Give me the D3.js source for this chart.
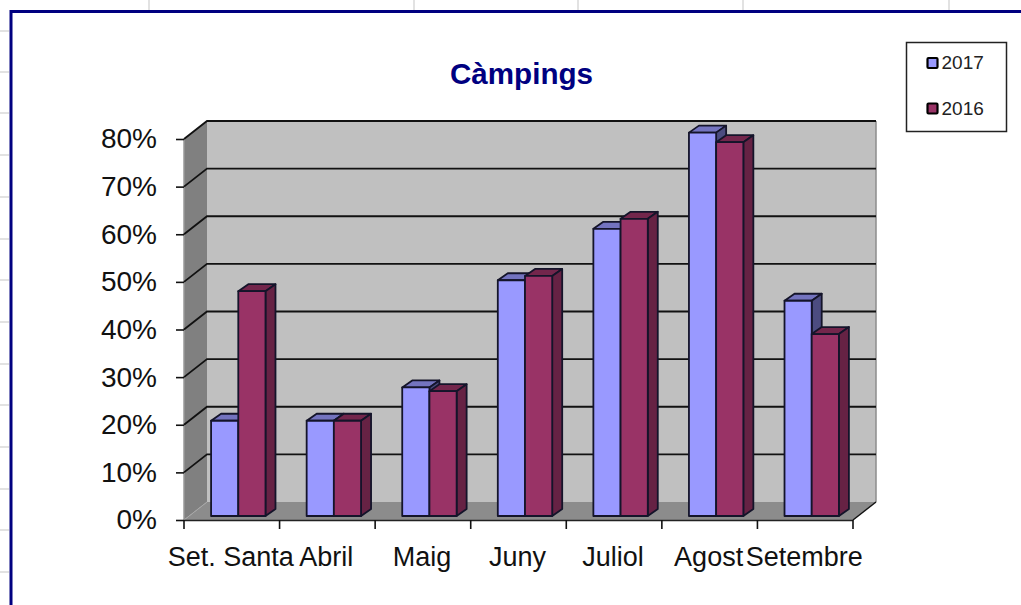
<!DOCTYPE html>
<html><head><meta charset="utf-8">
<script src="https://cdn.jsdelivr.net/npm/d3@7"></script>
<style>html,body{margin:0;padding:0;background:#fff;overflow:hidden}svg{display:block}text{font-family:"Liberation Sans",Arial,sans-serif}</style>
</head><body><svg id="c" width="1021" height="605"></svg>
<script>
const categories=["Set. Santa","Abril","Maig","Juny","Juliol","Agost","Setembre"];
const seriesNames=["2017","2016"];
const values2017=[20,20,27,49.5,60.3,80.5,45.2];
const values2016=[47.2,20,26.2,50.4,62.4,78.5,38.2];
const yTicks=[0,10,20,30,40,50,60,70,80];
const sheetColumns=[149,414,578,743,949];
const sheetRows=[31,72,113,155,197,239,280,322,364,405,447,489,530,572];
const title="Càmpings";

const svg=d3.select("#c");
const x=d3.scaleBand().domain(categories).range([184,853]);
const y=d3.scaleLinear().domain([0,80]).range([520,139]);
const dx=23,dy=-18;               // full chart depth
const barOff={x:6.5,y:-4},barD={x:10,y:-7};
const barW=27.2;
const colors={ "2017":{f:"#9999ff",t:"#7373bf",s:"#4c4c80"}, "2016":{f:"#993366",t:"#73264c",s:"#662244"} };
const poly=(pts)=>pts.map(p=>p.join(",")).join(" ");

// sheet gridlines behind the chart
svg.append("g").selectAll("line").data(sheetColumns).join("line")
 .attr("x1",d=>d).attr("x2",d=>d).attr("y1",0).attr("y2",10).attr("stroke","#d9d9d9").attr("stroke-width",1.5);
svg.append("g").selectAll("line").data(sheetRows).join("line")
 .attr("x1",0).attr("x2",9).attr("y1",d=>d).attr("y2",d=>d).attr("stroke","#d9d9d9").attr("stroke-width",1.5);

// chart area border
svg.append("path").attr("d","M11,605V11.5H1021").attr("fill","none").attr("stroke","#000080").attr("stroke-width",3);

const [x0,x1]=x.range(), y0=y(0), yT=y(80);
// walls
svg.append("polygon").attr("points",poly([[x0+dx,yT+dy],[x1+dx,yT+dy],[x1+dx,y0+dy],[x0+dx,y0+dy]])).attr("fill","#c0c0c0");
svg.append("polygon").attr("points",poly([[x0,yT],[x0+dx,yT+dy],[x0+dx,y0+dy],[x0,y0]])).attr("fill","#808080");
svg.append("polygon").attr("points",poly([[x0,y0],[x0+dx,y0+dy],[x1+dx,y0+dy],[x1,y0]])).attr("fill","#8c8c8c");
svg.append("line").attr("x1",x1+dx).attr("x2",x1+dx).attr("y1",yT+dy).attr("y2",y0+dy).attr("stroke","#8c8c8c").attr("stroke-width",1.5);
svg.append("line").attr("x1",x0).attr("x2",x0).attr("y1",yT).attr("y2",y0).attr("stroke","#999").attr("stroke-width",1.5);

// gridlines
const grid=svg.append("g");
grid.selectAll("path").data(yTicks.filter(d=>d>0)).join("path")
 .attr("d",d=>`M${x0},${y(d)}L${x0+dx},${y(d)+dy}H${x1+dx}`)
 .attr("fill","none").attr("stroke","#111").attr("stroke-width",1.8);
svg.append("path").attr("d",`M${x0},${y0}L${x0+dx},${y0+dy}`).attr("fill","none").attr("stroke","#a8a8a8").attr("stroke-width",1);
svg.append("path").attr("d",`M${x1},${y0}L${x1+dx},${y0+dy}`).attr("fill","none").attr("stroke","#111").attr("stroke-width",1.4);

// axes
const yAxis=d3.axisLeft(y).tickValues(yTicks).tickFormat(d=>d+"%").tickSize(8).tickPadding(19);
const gy=svg.append("g").attr("transform",`translate(${x0},0)`).call(yAxis);
gy.select(".domain").remove();
gy.selectAll("line").attr("stroke","#111").attr("stroke-width",1.6);
gy.selectAll("text").attr("font-size",28).attr("fill","#111").attr("font-family","Liberation Sans");
svg.append("line").attr("x1",x0).attr("x2",x1).attr("y1",y0+.5).attr("y2",y0+.5).attr("stroke","#222").attr("stroke-width",1.6);
const xEdges=[...categories.map(c=>x(c)),x1];
svg.append("g").selectAll("line").data(xEdges).join("line")
 .attr("x1",d=>d).attr("x2",d=>d).attr("y1",y0).attr("y2",y0+9).attr("stroke","#111").attr("stroke-width",1.6);
svg.append("g").selectAll("text").data(categories).join("text")
 .attr("x",d=>x(d)+x.bandwidth()/2-1).attr("y",566).attr("text-anchor","middle")
 .attr("font-size",27).attr("fill","#111").text(d=>d);

// bars
const rows=categories.flatMap((c,i)=>[{c,s:"2017",v:values2017[i],k:0},{c,s:"2016",v:values2016[i],k:1}]);
const bars=svg.append("g").selectAll("g").data(rows).join("g")
 .attr("stroke","#14142a").attr("stroke-width",1.8).attr("stroke-linejoin","round");
const L=d=>x(d.c)+x.bandwidth()/2-barW+barOff.x+d.k*barW;
const T=d=>y(d.v)+barOff.y, B=d=>y(0)+barOff.y;
bars.append("polygon").attr("points",d=>{const l=L(d),r=l+barW,t=T(d);return poly([[l,t],[l+barD.x,t+barD.y],[r+barD.x,t+barD.y],[r,t]])}).attr("fill",d=>colors[d.s].t);
bars.append("polygon").attr("points",d=>{const r=L(d)+barW,t=T(d),b=B(d);return poly([[r,t],[r+barD.x,t+barD.y],[r+barD.x,b+barD.y],[r,b]])}).attr("fill",d=>colors[d.s].s);
bars.append("rect").attr("x",L).attr("y",T).attr("width",barW).attr("height",d=>B(d)-T(d)).attr("fill",d=>colors[d.s].f);

// title
svg.append("text").attr("x",521.5).attr("y",84).attr("text-anchor","middle").attr("font-size",29.6).attr("font-weight","bold").attr("fill","#000080").text(title);

// legend
svg.append("rect").attr("x",906.5).attr("y",42.5).attr("width",100).attr("height",89).attr("fill","#fff").attr("stroke","#222").attr("stroke-width",1.5);
const lg=svg.append("g").selectAll("g").data(seriesNames).join("g").attr("transform",(d,i)=>`translate(0,${63+i*45.5})`);
lg.append("rect").attr("x",927.5).attr("y",-5).attr("width",10).attr("height",10).attr("rx",1).attr("fill",d=>colors[d].f).attr("stroke","#000").attr("stroke-width",2.2);
lg.append("text").attr("x",941.5).attr("y",6).attr("font-size",19).attr("fill","#222").text(d=>d);
</script></body></html>
